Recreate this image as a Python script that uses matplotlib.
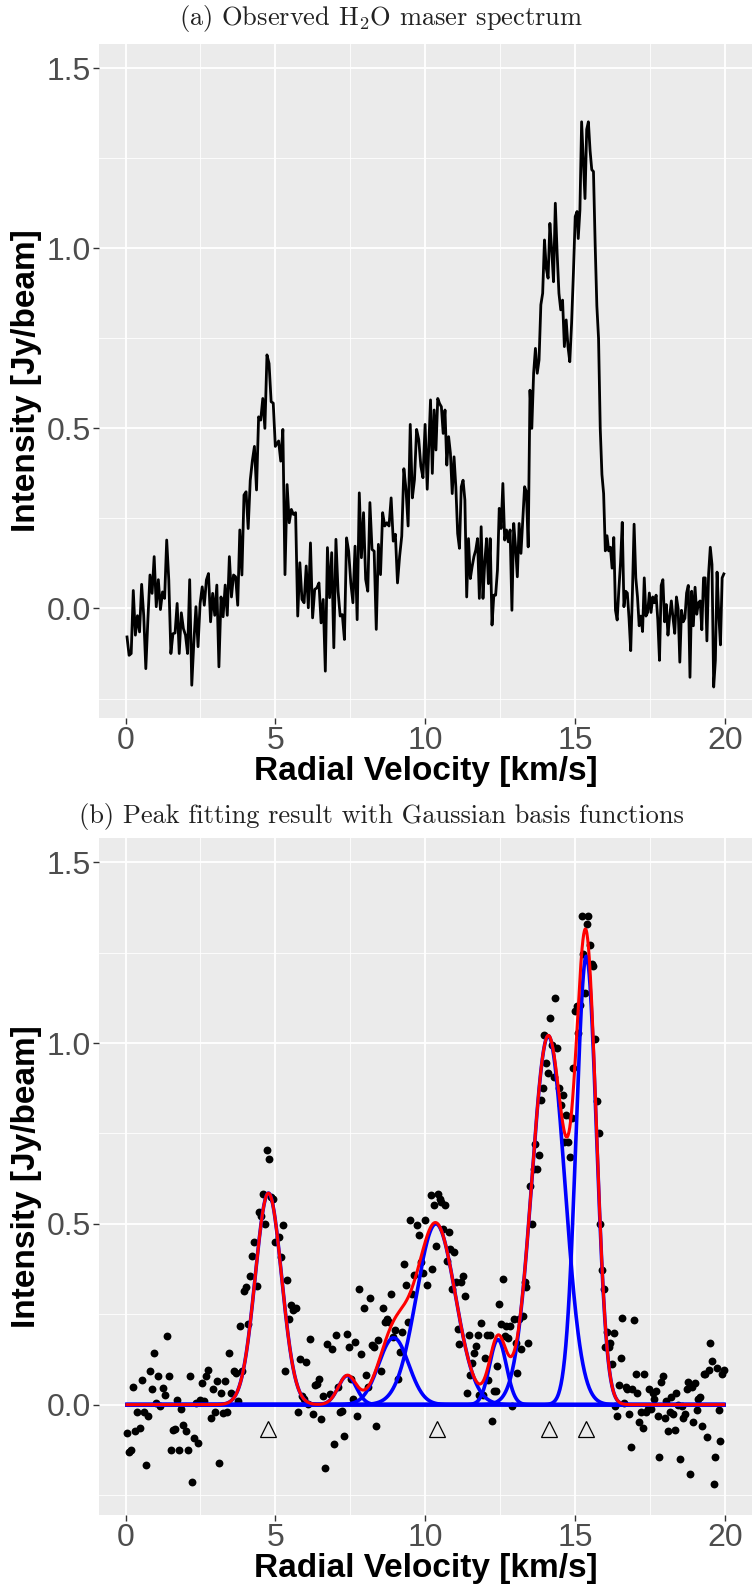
import numpy as np
import matplotlib
matplotlib.use("Agg")
import matplotlib.pyplot as plt

# ------------------------------------------------------------
# Observed H2O maser spectrum
# channels are split in 4 velocity blocks of ~5 km/s each
# ------------------------------------------------------------
seg1_range = (0.05, 5.0)
seg1_flux = [-0.079, -0.13, -0.125, 0.05, -0.074, -0.02, -0.065, 0.067, -0.02, -0.167,
             -0.03, 0.093, 0.042, 0.144, 0.005, 0.08, -0.003, 0.046, 0.028, 0.19,
             0.079, -0.125, -0.07, -0.068, 0.014, -0.125, -0.012, -0.056, -0.074, -0.125,
             0.08, -0.213, -0.093, 0.005, -0.106, 0.014, 0.06, 0.009, 0.079, 0.097,
             -0.037, 0.042, -0.019, 0.065, -0.162, 0.032, -0.023, 0.065, -0.019, 0.144,
             0.032, 0.093, 0.088, 0.009, 0.218, 0.093, 0.315, 0.324, 0.222, 0.356,
             0.41, 0.45, 0.329, 0.532, 0.523, 0.583, 0.5, 0.704, 0.68, 0.574,
             0.57, 0.45]

seg2_range = (5.11, 10.07)
seg2_flux = [0.465, 0.409, 0.497, 0.094, 0.344, 0.238, 0.275, 0.261, 0.266, -0.021,
             0.127, 0.025, 0.016, 0.118, 0.002, 0.182, -0.026, 0.053, 0.057, 0.071,
             -0.04, 0.025, -0.174, 0.169, 0.03, 0.155, -0.109, 0.192, 0.048, -0.021,
             -0.017, -0.086, 0.196, 0.159, 0.071, 0.016, 0.173, -0.031, 0.321, 0.141,
             0.266, 0.081, 0.048, 0.294, 0.164, 0.159, -0.058, 0.178, 0.094, 0.266,
             0.229, 0.238, 0.229, 0.307, 0.187, 0.206, 0.071, 0.145, 0.201, 0.388,
             0.331, 0.229, 0.511, 0.307, 0.358, 0.497, 0.469, 0.395, 0.363, 0.511,
             0.331]

seg3_range = (10.18, 15.07)
seg3_flux = [0.579, 0.375, 0.551, 0.44, 0.583, 0.569, 0.56, 0.486, 0.551, 0.398,
             0.477, 0.431, 0.319, 0.421, 0.338, 0.208, 0.167, 0.338, 0.356, 0.301,
             0.032, 0.194, 0.083, 0.116, 0.144, 0.162, 0.194, 0.028, 0.227, 0.028,
             0.13, 0.194, 0.069, 0.194, -0.046, 0.037, 0.037, 0.106, 0.278, 0.222,
             0.347, 0.19, 0.218, 0.185, 0.218, -0.005, 0.236, 0.171, 0.088, 0.236,
             0.153, 0.245, 0.338, 0.324, 0.171, 0.606, 0.5, 0.653, 0.722, 0.653,
             0.69, 0.843, 0.875, 1.023, 0.944, 0.917, 1.069, 0.995, 0.907, 1.125,
             0.986, 0.875, 0.829, 0.856, 0.727, 0.801, 0.727, 0.685, 0.792, 0.931,
             1.088, 1.102]

seg4_range = (15.11, 19.97)
seg4_flux = [1.027, 1.106, 1.351, 1.245, 1.138, 1.33, 1.351, 1.271, 1.218, 1.213,
             1.011, 0.84, 0.75, 0.5, 0.372, 0.319, 0.16, 0.202, 0.16, 0.17,
             0.112, 0.197, -0.005, -0.032, 0.053, 0.128, 0.239, 0.005, 0.048, 0.043,
             -0.027, -0.117, 0.043, 0.234, 0.085, 0.032, -0.048, -0.021, -0.064, 0.085,
             -0.021, -0.011, 0.043, -0.011, 0.032, 0.016, 0.037, -0.032, -0.144, 0.064,
             0.08, -0.037, 0.011, -0.074, -0.021, 0.021, -0.027, -0.069, 0.032, 0.0,
             -0.149, -0.005, -0.037, -0.027, 0.043, 0.064, -0.191, 0.048, -0.048, 0.059,
             -0.016, 0.016, 0.021, -0.059, 0.085, 0.085, -0.09, 0.096, 0.17, 0.122,
             -0.218, -0.144, 0.101, -0.016, -0.101, 0.085, 0.096]

# Gaussian basis components of the fit (centre, amplitude, sigma)
peak_center = [4.77, 7.40, 8.95, 10.36, 12.43, 14.11, 15.38]
peak_amp = [0.585, 0.08, 0.185, 0.50, 0.18, 1.02, 1.24]
peak_sigma = [0.44, 0.30, 0.50, 0.65, 0.28, 0.55, 0.34]

# detected peak positions (triangles)
marker_v = [4.75, 10.38, 14.12, 15.38]
marker_y = -0.068

# ------------------------------------------------------------
velocity = np.concatenate([
    np.linspace(*seg1_range, len(seg1_flux)),
    np.linspace(*seg2_range, len(seg2_flux)),
    np.linspace(*seg3_range, len(seg3_flux)),
    np.linspace(*seg4_range, len(seg4_flux)),
])
flux = np.array(seg1_flux + seg2_flux + seg3_flux + seg4_flux)

v_fine = np.linspace(0.05, 19.97, 1500)
components = [a * np.exp(-(v_fine - c) ** 2 / (2 * s ** 2))
              for c, a, s in zip(peak_center, peak_amp, peak_sigma)]
model = np.sum(components, axis=0)

# ------------------------------------------------------------
W, H = 752, 1586
fig = plt.figure(figsize=(W / 100, H / 100), dpi=100)
plt.rcParams['mathtext.fontset'] = 'cm'

PANEL_BG = '#EBEBEB'
XLIM = (-0.885, 20.91)
YLIM = (-0.304, 1.567)
tick_font = dict(family='Liberation Sans', size=23, color='#4D4D4D')
label_font = dict(family='Liberation Sans', size=24, weight='bold', color='black')


def px_axes(left, top, right, bottom):
    return fig.add_axes([left / W, 1 - bottom / H, (right - left) / W, (bottom - top) / H])


def style_panel(ax):
    ax.set_facecolor(PANEL_BG)
    ax.set_xlim(*XLIM)
    ax.set_ylim(*YLIM)
    ax.set_xticks([0, 5, 10, 15, 20])
    ax.set_xticks([2.5, 7.5, 12.5, 17.5], minor=True)
    ax.set_yticks([0.0, 0.5, 1.0, 1.5])
    ax.set_yticks([-0.25, 0.25, 0.75, 1.25], minor=True)
    ax.set_xticklabels(['0', '5', '10', '15', '20'], **tick_font)
    ax.set_yticklabels(['0.0', '0.5', '1.0', '1.5'], **tick_font)
    ax.grid(which='major', color='white', linewidth=1.3)
    ax.grid(which='minor', color='white', linewidth=0.6)
    ax.set_axisbelow(True)
    for sp in ax.spines.values():
        sp.set_visible(False)
    ax.tick_params(which='major', length=4, width=1.0, color='#333333', pad=2)
    ax.tick_params(which='minor', length=0)
    ax.set_xlabel('Radial Velocity [km/s]', labelpad=0, **label_font)
    ax.set_ylabel('Intensity [Jy/beam]', labelpad=3, **label_font)


# (a) observed spectrum
ax1 = px_axes(99, 44, W, 718)
style_panel(ax1)
ax1.plot(velocity, flux, color='black', linewidth=2.0, zorder=3)

# (b) Gaussian fit
ax2 = px_axes(99, 838, W, 1514.6)
style_panel(ax2)
ax2.scatter(velocity, flux, s=32, color='black', linewidths=0, zorder=3)
for comp in components:
    ax2.plot(v_fine, comp, color='#0000FF', linewidth=2.6, zorder=4)
ax2.plot(v_fine, model, color='#FF0000', linewidth=2.2, zorder=5)
ax2.plot(marker_v, [marker_y] * len(marker_v), linestyle='none', marker='^',
         markersize=11, markerfacecolor='none', markeredgecolor='black',
         markeredgewidth=0.9, zorder=6)

# panel titles (Computer Modern, like the LaTeX original)
title_font = dict(family='cmr10', size=19, color='#222222', ha='center', va='center')
fig.text(381 / W, 1 - 19 / H, r'(a) Observed H$_2$O maser spectrum', **title_font)
fig.text(381 / W, 1 - 816 / H,
         '(b) Peak fitting result with Gaussian basis functions', **title_font)

plt.savefig('out.png', dpi=100)
